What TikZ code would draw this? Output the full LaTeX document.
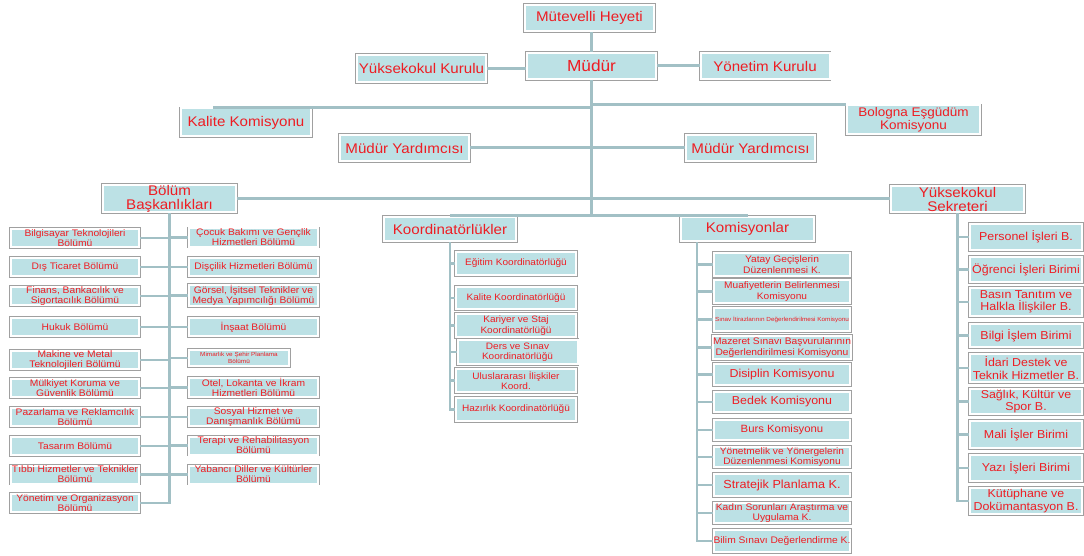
\documentclass[tikz,border=0pt]{standalone}
\usepackage{fontspec}
\setmainfont{Liberation Sans}[FakeStretch=1.08]
\usepackage{tikz}
\usetikzlibrary{positioning}
\usepackage{xcolor}
\definecolor{boxfill}{HTML}{BCE1E5}
\definecolor{boxedge}{HTML}{A0A0A0}
\definecolor{boxtext}{HTML}{EE1D23}
\definecolor{lineclr}{HTML}{A2C0C5}
\tikzset{
  box/.style = {fill=boxfill, draw=white, line width=2pt, preaction={draw=boxedge, line width=3.8pt},
    text=boxtext, align=center, inner sep=0pt},
  head/.style = {box, minimum width=129pt, minimum height=26pt, font=\fontsize{14}{14}\selectfont},
  unit/.style = {box, minimum width=128pt, minimum height=18pt, font=\fontsize{9.5}{10}\selectfont},
  coord/.style = {box, minimum width=120pt, minimum height=23pt, font=\fontsize{9.3}{10.5}\selectfont},
  komm/.style = {box, minimum width=136pt, minimum height=22pt, font=\fontsize{9.5}{10.5}\selectfont},
  sekr/.style = {box, minimum width=112pt, minimum height=26pt, font=\fontsize{11.5}{12.5}\selectfont},
  conn/.style = {draw=lineclr, line width=3pt},
  sub/.style = {draw=lineclr, line width=2.6pt}
}
\begin{document}
\begin{tikzpicture}[x=1pt,y=-1pt]
        \useasboundingbox (0,0) rectangle (1084,556);
        % top levels
        \node[head] (heyet) at (589.5,18) {Mütevelli Heyeti};
        \node[head,font=\fontsize{16}{16}\selectfont] (mudur) at (591.5,66) {Müdür};
        \node[head,minimum height=27pt] (ykurul) at (421.5,68.5) {Yüksekokul Kurulu};
        \node[head] (ynkurul) at (765,66) {Yönetim Kurulu};
        \node[head,minimum width=130pt,minimum height=28pt] (kalite) at (246,122.5) {Kalite Komisyonu};
        \node[head,minimum width=133pt,minimum height=29pt,font=\fontsize{12.5}{13}\selectfont] (bologna) at (913.5,120) {Bologna Eşgüdüm\\Komisyonu};
        \node[head] (mylft) at (404.5,148) {Müdür Yardımcısı};
        \node[head] (myrgt) at (750.5,148) {Müdür Yardımcısı};
        \node[head,minimum width=133pt,minimum height=25pt] (bolum) at (169.5,198.5) {Bölüm\\Başkanlıkları};
        \node[head,minimum width=133pt] (sekreter) at (957.5,199) {Yüksekokul\\Sekreteri};
        \node[head,minimum width=132pt,minimum height=24pt] (koord) at (450,229) {Koordinatörlükler};
        \node[head,minimum width=133pt,minimum height=24pt] (komis) at (747.5,229) {Komisyonlar};
        % Bölüm Başkanlıkları
        \node[unit] (b1) at (75,238) {Bilgisayar Teknolojileri\\Bölümü};
        \node[unit] (b2) at (75,267) {Dış Ticaret Bölümü};
        \node[unit] (b3) at (75,296) {Finans, Bankacılık ve\\Sigortacılık Bölümü};
        \node[unit] (b4) at (75,327) {Hukuk Bölümü};
        \node[unit] (b5) at (75,360) {Makine ve Metal\\Teknolojileri Bölümü};
        \node[unit] (b6) at (75,388) {Mülkiyet Koruma ve\\Güvenlik Bölümü};
        \node[unit] (b7) at (75,417) {Pazarlama ve Reklamcılık\\Bölümü};
        \node[unit] (b8) at (75,446) {Tasarım Bölümü};
        \node[unit] (b9) at (75,474.5) {Tıbbi Hizmetler ve Teknikler\\Bölümü};
        \node[unit] (b10) at (75,503) {Yönetim ve Organizasyon\\Bölümü};
        \node[unit,minimum width=129pt] (c1) at (253.5,237.5) {Çocuk Bakımı ve Gençlik\\Hizmetleri Bölümü};
        \node[unit,minimum width=129pt] (c2) at (253.5,267) {Dişçilik Hizmetleri Bölümü};
        \node[unit,minimum width=129pt] (c3) at (253.5,295.5) {Görsel, İşitsel Teknikler ve\\Medya Yapımcılığı Bölümü};
        \node[unit,minimum width=129pt] (c4) at (253.5,327) {İnşaat Bölümü};
        \node[unit,minimum width=100pt,minimum height=16pt,font=\fontsize{5.9}{6.5}\selectfont] (c5) at (239,358) {Mimarlık ve Şehir Planlama\\Bölümü};
        \node[unit,minimum width=129pt] (c6) at (253.5,387.5) {Otel, Lokanta ve İkram\\Hizmetleri Bölümü};
        \node[unit,minimum width=129pt] (c7) at (253.5,417) {Sosyal Hizmet ve\\Danışmanlık Bölümü};
        \node[unit,minimum width=129pt] (c8) at (253.5,445.5) {Terapi ve Rehabilitasyon\\Bölümü};
        \node[unit,minimum width=129pt] (c9) at (253.5,474.5) {Yabancı Diller ve Kültürler\\Bölümü};
        % Koordinatörlükler
        \node[coord] (k1) at (516,263.5) {Eğitim Koordinatörlüğü};
        \node[coord,minimum height=22pt] (k2) at (516,298) {Kalite Koordinatörlüğü};
        \node[coord] (k3) at (516,325.5) {Kariyer ve Staj\\Koordinatörlüğü};
        \node[coord,minimum height=24pt] (k4) at (517.5,352) {Ders ve Sınav\\Koordinatörlüğü};
        \node[coord] (k5) at (516,380.5) {Uluslararası İlişkiler\\Koord.};
        \node[coord] (k6) at (516,409.5) {Hazırlık Koordinatörlüğü};
        % Komisyonlar
        \node[komm,minimum height=23pt] (m1) at (782,264.5) {Yatay Geçişlerin\\Düzenlenmesi K.};
        \node[komm,minimum height=23pt,font=\fontsize{9.4}{10.5}\selectfont] (m2) at (782,291.5) {Muafiyetlerin Belirlenmesi\\Komisyonu};
        \node[komm,minimum height=23pt,font=\fontsize{5.9}{6.5}\selectfont] (m3) at (782,319.5) {Sınav İtirazlarının Değerlendirilmesi Komisyonu};
        \node[komm,minimum height=23pt] (m4) at (782,347.5) {Mazeret Sınavı Başvurularının\\Değerlendirilmesi Komisyonu};
        \node[komm,minimum height=21pt,font=\fontsize{11.5}{12}\selectfont] (m5) at (782,374.5) {Disiplin Komisyonu};
        \node[komm,minimum height=20pt,font=\fontsize{11.5}{12}\selectfont] (m6) at (782,402) {Bedek Komisyonu};
        \node[komm,minimum height=20pt,font=\fontsize{10.5}{11}\selectfont] (m7) at (782,430) {Burs Komisyonu};
        \node[komm,minimum height=20pt,font=\fontsize{9.4}{10.5}\selectfont] (m8) at (782,457) {Yönetmelik ve Yönergelerin\\Düzenlenmesi Komisyonu};
        \node[komm,font=\fontsize{11.7}{12}\selectfont] (m9) at (782,485) {Stratejik Planlama K.};
        \node[komm,minimum height=20pt] (m10) at (782,513) {Kadın Sorunları Araştırma ve\\Uygulama K.};
        \node[komm] (m11) at (782,541) {Bilim Sınavı Değerlendirme K.};
        % Yüksekokul Sekreteri
        \node[sekr] (y1) at (1026,237) {Personel İşleri B.};
        \node[sekr,minimum height=25pt] (y2) at (1026,269.5) {Öğrenci İşleri Birimi};
        \node[sekr,minimum height=28pt] (y3) at (1026,302) {Basın Tanıtım ve\\Halkla İlişkiler B.};
        \node[sekr,minimum height=23pt] (y4) at (1026,335.5) {Bilgi İşlem Birimi};
        \node[sekr,minimum height=28pt] (y5) at (1026,368) {İdari Destek ve\\Teknik Hizmetler B.};
        \node[sekr,minimum height=25pt] (y6) at (1026,401.5) {Sağlık, Kültür ve\\Spor B.};
        \node[sekr,minimum height=27pt] (y7) at (1026,434.5) {Mali İşler Birimi};
        \node[sekr] (y8) at (1026,468) {Yazı İşleri Birimi};
        \node[sekr] (y9) at (1026,501) {Kütüphane ve\\Dokümantasyon B.};
        % main connectors
        \draw[conn] (mudur.north) -- (mudur.north |- heyet.south);
        \draw[conn] (ykurul.east) -- (ykurul.east -| mudur.west);
        \draw[conn] (mudur.east) -- (mudur.east -| ynkurul.west);
        \draw[conn] (mudur.south) -- (mudur.south |- koord.north);
        \draw[conn] (mudur.south |- kalite.north) -- ([xshift=-33pt]kalite.north);
        \draw[conn] (mudur.south |- bologna.north) -- (bologna.north west);
        \draw[conn] (mylft.east) -- (myrgt.west);
        \draw[conn] (bolum.east) -- (bolum.east -| sekreter.west);
        \draw[conn] (koord.north) -- (komis.north);
        % branches
        \draw[sub] (bolum.south) |- (b10.east);
        \draw[sub] (b1.east) -- (b1.east -| bolum.south) (b2.east) -- (b2.east -| bolum.south)
          (b3.east) -- (b3.east -| bolum.south) (b4.east) -- (b4.east -| bolum.south)
          (b5.east) -- (b5.east -| bolum.south) (b6.east) -- (b6.east -| bolum.south)
          (b7.east) -- (b7.east -| bolum.south) (b8.east) -- (b8.east -| bolum.south)
          (b9.east) -- (b9.east -| bolum.south);
        \draw[sub] (c1.west) -- (c1.west -| bolum.south) (c2.west) -- (c2.west -| bolum.south)
          (c3.west) -- (c3.west -| bolum.south) (c4.west) -- (c4.west -| bolum.south)
          (c5.west) -- (c5.west -| bolum.south) (c6.west) -- (c6.west -| bolum.south)
          (c7.west) -- (c7.west -| bolum.south) (c8.west) -- (c8.west -| bolum.south)
          (c9.west) -- (c9.west -| bolum.south);
        \draw[sub] (koord.south) |- (k6.west);
        \draw[sub] (k1.west) -- (k1.west -| koord.south) (k2.west) -- (k2.west -| koord.south)
          (k3.west) -- (k3.west -| koord.south) (k4.west) -- (k4.west -| koord.south)
          (k5.west) -- (k5.west -| koord.south);
        \coordinate (kmtop) at ([xshift=-50.5pt]komis.south);
        \draw[sub] (kmtop) |- (m11.west);
        \draw[sub] (m1.west) -- (m1.west -| kmtop) (m2.west) -- (m2.west -| kmtop)
          (m3.west) -- (m3.west -| kmtop) (m4.west) -- (m4.west -| kmtop)
          (m5.west) -- (m5.west -| kmtop) (m6.west) -- (m6.west -| kmtop)
          (m7.west) -- (m7.west -| kmtop) (m8.west) -- (m8.west -| kmtop)
          (m9.west) -- (m9.west -| kmtop) (m10.west) -- (m10.west -| kmtop);
        \draw[sub] (sekreter.south) |- (y9.west);
        \draw[sub] (y1.west) -- (y1.west -| sekreter.south) (y2.west) -- (y2.west -| sekreter.south)
          (y3.west) -- (y3.west -| sekreter.south) (y4.west) -- (y4.west -| sekreter.south)
          (y5.west) -- (y5.west -| sekreter.south) (y6.west) -- (y6.west -| sekreter.south)
          (y7.west) -- (y7.west -| sekreter.south) (y8.west) -- (y8.west -| sekreter.south);
      \end{tikzpicture}
\end{document}
